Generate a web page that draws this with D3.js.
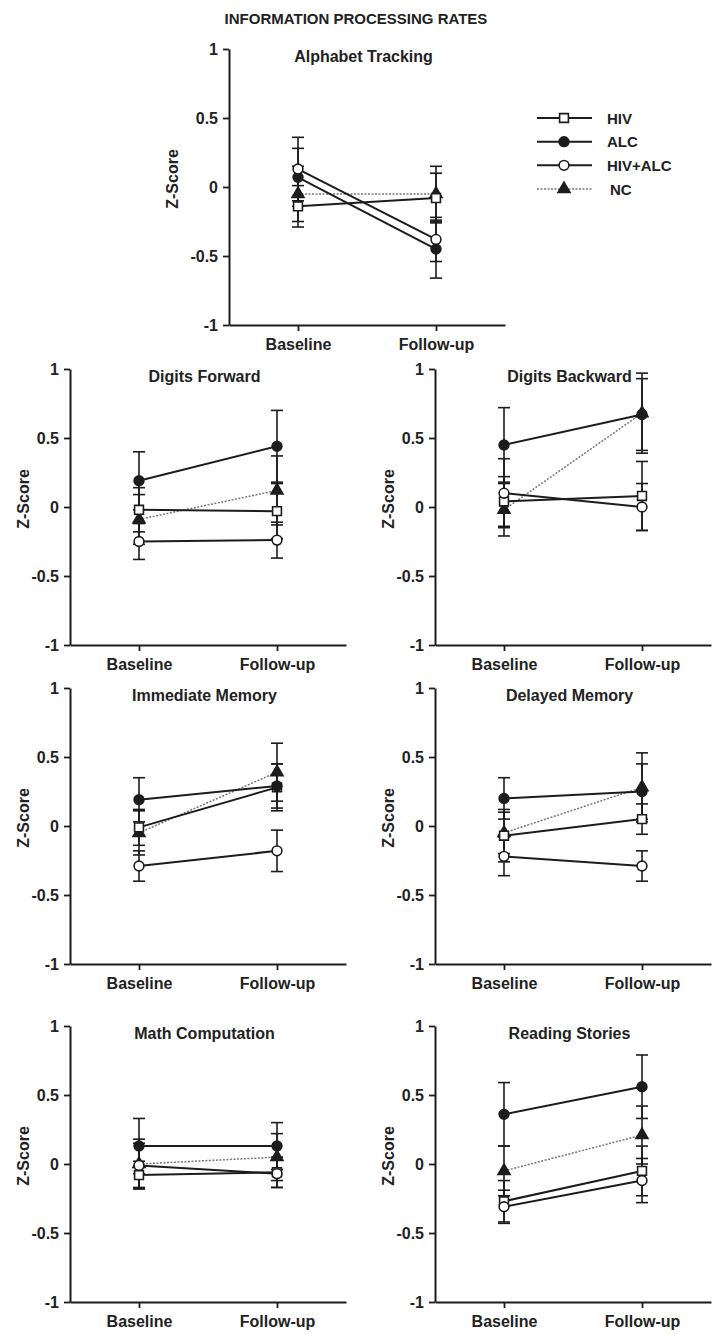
<!DOCTYPE html>
<html>
<head>
<meta charset="utf-8">
<script src="https://cdn.jsdelivr.net/npm/d3@7.9.0/dist/d3.min.js"></script>
<style>
  body { margin: 0; background: #fff; }
  svg { display: block; }
  text { font-family: "Liberation Sans", Arial, sans-serif; font-weight: bold; fill: #222; }
</style>
</head>
<body>
<svg id="chart" width="712" height="1334"></svg>
<script>
const times = ['Baseline', 'Follow-up'];
const groups = ['HIV', 'ALC', 'HIV+ALC', 'NC'];
const tests = ['Alphabet Tracking', 'Digits Forward', 'Digits Backward', 'Immediate Memory',
               'Delayed Memory', 'Math Computation', 'Reading Stories'];
const yTicks = [-1, -0.5, 0, 0.5, 1];

// group means per test: [baseline, follow-up]
const hivMean    = [[-0.14, -0.08], [-0.02, -0.03], [0.04, 0.08], [-0.01, 0.28], [-0.07, 0.05], [-0.08, -0.06], [-0.27, -0.05]];
const alcMean    = [[0.07, -0.45], [0.19, 0.44], [0.45, 0.67], [0.19, 0.29], [0.20, 0.25], [0.13, 0.13], [0.36, 0.56]];
const hivAlcMean = [[0.13, -0.38], [-0.25, -0.24], [0.10, 0.00], [-0.29, -0.18], [-0.22, -0.29], [-0.01, -0.07], [-0.31, -0.12]];
const ncMean     = [[-0.05, -0.05], [-0.09, 0.12], [-0.02, 0.68], [-0.05, 0.39], [-0.05, 0.28], [0.00, 0.05], [-0.05, 0.21]];

// standard errors per test: [baseline, follow-up]
const hivErr    = [[0.15, 0.18], [0.16, 0.20], [0.18, 0.25], [0.13, 0.17], [0.19, 0.11], [0.10, 0.11], [0.15, 0.18]];
const alcErr    = [[0.21, 0.21], [0.21, 0.26], [0.27, 0.26], [0.16, 0.16], [0.15, 0.20], [0.20, 0.17], [0.23, 0.23]];
const hivAlcErr = [[0.23, 0.16], [0.13, 0.13], [0.25, 0.17], [0.11, 0.15], [0.14, 0.11], [0.16, 0.10], [0.12, 0.16]];
const ncErr     = [[0.20, 0.20], [0.18, 0.25], [0.19, 0.29], [0.16, 0.21], [0.15, 0.25], [0.18, 0.17], [0.18, 0.21]];

const means = { 'HIV': hivMean, 'ALC': alcMean, 'HIV+ALC': hivAlcMean, 'NC': ncMean };
const errs = { 'HIV': hivErr, 'ALC': alcErr, 'HIV+ALC': hivAlcErr, 'NC': ncErr };

const ink = '#1c1c1c';
const styles = {
  'HIV':     { symbol: d3.symbolSquare,   size: 78, fill: '#fff', stroke: ink, width: 2, dash: null },
  'ALC':     { symbol: d3.symbolCircle,   size: 75, fill: ink,    stroke: ink, width: 2, dash: null },
  'HIV+ALC': { symbol: d3.symbolCircle,   size: 75, fill: '#fff', stroke: ink, width: 2, dash: null },
  'NC':      { symbol: d3.symbolTriangle, size: 62, fill: ink,    stroke: '#777', width: 1.5, dash: '2,1.5' }
};

// panel origin = y-axis x and y of value 1
const panels = [
  { x: 229, y: 49,    zOff: 57 },
  { x: 70,  y: 369,   zOff: 47 },
  { x: 435, y: 369,   zOff: 47 },
  { x: 70,  y: 688,   zOff: 47 },
  { x: 435, y: 688,   zOff: 47 },
  { x: 70,  y: 1026,  zOff: 47 },
  { x: 435, y: 1026,  zOff: 47 }
];
const plotW = 277, plotH = 276;

const svg = d3.select('#chart');

svg.append('text')
  .attr('x', 356).attr('y', 24)
  .attr('text-anchor', 'middle')
  .style('font-size', '15px')
  .text('INFORMATION PROCESSING RATES');

const x = d3.scalePoint().domain(times).range([0, plotW - 1]).padding(0.5);
const y = d3.scaleLinear().domain([-1, 1]).range([plotH, 0]);

tests.forEach((test, t) => {
  const p = panels[t];
  const g = svg.append('g').attr('transform', `translate(${p.x},${p.y})`);

  const yAxis = g.append('g')
    .call(d3.axisLeft(y).tickValues(yTicks).tickSize(6).tickSizeOuter(0).tickPadding(5).tickFormat(d => String(d)));
  const xAxis = g.append('g')
    .attr('transform', `translate(0,${plotH})`)
    .call(d3.axisBottom(x).tickSize(6).tickSizeOuter(0).tickPadding(8));
  [yAxis, xAxis].forEach(a => {
    a.select('.domain').attr('stroke', ink).attr('stroke-width', 2);
    a.selectAll('.tick line').attr('stroke', ink).attr('stroke-width', 1.8);
    a.selectAll('.tick text').attr('fill', '#222').style('font-size', '16px')
      .style('font-family', '"Liberation Sans", Arial, sans-serif').style('font-weight', 'bold');
  });

  g.append('text')
    .attr('x', plotW / 2 - 4).attr('y', 13)
    .attr('text-anchor', 'middle')
    .style('font-size', '16px')
    .text(test);

  g.append('text')
    .attr('transform', `translate(${-p.zOff},${plotH / 2 - 8}) rotate(-90)`)
    .attr('text-anchor', 'middle')
    .attr('dominant-baseline', 'central')
    .style('font-size', '16px')
    .text('Z-Score');

  const line = d3.line().x((d, i) => x(times[i])).y(d => y(d));

  // lines, NC first so the solid lines sit over it
  ['NC', 'HIV', 'ALC', 'HIV+ALC'].forEach(grp => {
    const s = styles[grp];
    g.append('path')
      .attr('d', line(means[grp][t]))
      .attr('fill', 'none')
      .attr('stroke', s.stroke)
      .attr('stroke-width', s.width)
      .attr('stroke-dasharray', s.dash);
  });

  // error bars
  groups.forEach(grp => {
    means[grp][t].forEach((m, i) => {
      const e = errs[grp][t][i];
      const cx = x(times[i]);
      const eb = g.append('g').attr('stroke', ink).attr('stroke-width', 1.6);
      eb.append('line').attr('x1', cx).attr('x2', cx).attr('y1', y(m - e)).attr('y2', y(m + e));
      [m - e, m + e].forEach(v => {
        eb.append('line').attr('x1', cx - 6).attr('x2', cx + 6).attr('y1', y(v)).attr('y2', y(v));
      });
    });
  });

  // markers
  ['NC', 'HIV', 'ALC', 'HIV+ALC'].forEach(grp => {
    const s = styles[grp];
    means[grp][t].forEach((m, i) => {
      g.append('path')
        .attr('d', d3.symbol().type(s.symbol).size(s.size)())
        .attr('transform', `translate(${x(times[i])},${y(m)})`)
        .attr('fill', s.fill)
        .attr('stroke', ink)
        .attr('stroke-width', 1.6);
    });
  });
});

// legend
const legendY = d3.scalePoint().domain(groups).range([118, 189]);
const legend = svg.append('g');
groups.forEach(grp => {
  const s = styles[grp];
  const ly = legendY(grp);
  legend.append('line')
    .attr('x1', 537).attr('x2', 592).attr('y1', ly).attr('y2', ly)
    .attr('stroke', s.stroke).attr('stroke-width', s.width).attr('stroke-dasharray', s.dash);
  legend.append('path')
    .attr('d', d3.symbol().type(s.symbol).size(s.size)())
    .attr('transform', `translate(564,${ly})`)
    .attr('fill', s.fill).attr('stroke', ink).attr('stroke-width', 1.6);
  legend.append('text')
    .attr('x', grp === 'NC' ? 610 : 607).attr('y', ly)
    .attr('dominant-baseline', 'central')
    .style('font-size', '15px')
    .text(grp);
});
</script>
</body>
</html>
